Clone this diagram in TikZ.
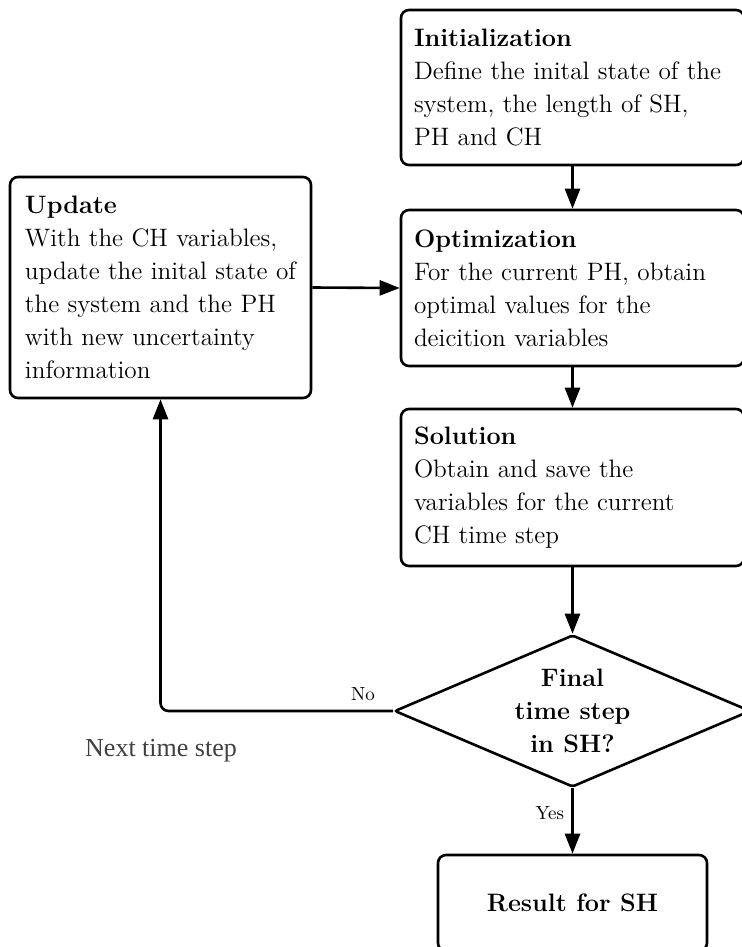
\documentclass[tikz,border=0pt]{standalone}
\usepackage{fontspec}
\newfontfamily\garafont{Liberation Serif}
\usetikzlibrary{shapes.geometric,arrows.meta}
\begin{document}
\begin{tikzpicture}[x=0.5pt,y=-0.5pt,
  box/.style={draw, line width=1.3pt, rounded corners=4pt, align=left, inner xsep=6.5pt, inner ysep=0pt, font=\fontsize{12.6}{16.5}\selectfont},
  arr/.style={line width=1.3pt, -{Triangle[length=10pt,width=7.5pt]}},
  lab/.style={font=\fontsize{9.5}{11}\selectfont, inner sep=0pt}
]
\useasboundingbox (0,0) rectangle (742,947);
\node[box, minimum width=171.5pt, text width=158.5pt, minimum height=77.5pt] (init) at (572.5,87.5)
  {\textbf{Initialization}\\Define the inital state of the\\system, the length of SH,\\PH and CH};
\node[box, minimum width=171.5pt, text width=158.5pt, minimum height=78pt] (opt) at (572.5,288)
  {\textbf{Optimization}\\For the current PH, obtain\\optimal values for the\\deicition variables};
\node[box, minimum width=171.5pt, text width=158.5pt, minimum height=78.5pt] (sol) at (572.5,487.5)
  {\textbf{Solution}\\Obtain and save the\\variables for the current\\CH time step};
\node[box, inner xsep=7.5pt, minimum width=150.5pt, text width=135.5pt, minimum height=110.5pt] (upd) at (160.5,287.5)
  {\textbf{Update}\\With the CH variables,\\update the inital state of\\the system and the PH\\with new uncertainty\\information};
\node[draw, diamond, aspect=2.34, minimum width=178pt, minimum height=76pt, inner sep=0pt, line width=1.3pt, rounded corners=1pt, align=center, font=\bfseries\fontsize{12.6}{16.5}\selectfont] (dia) at (572.5,711)
  {Final\\time step\\in SH?};
\node[box, align=center, text width=, font=\bfseries\fontsize{12.6}{16.5}\selectfont, minimum width=134.5pt, minimum height=48pt] (res) at (572.5,903) {Result for SH};
\draw[arr] (init) -- (opt);
\draw[arr] (opt) -- (sol);
\draw[arr] (sol) -- (dia);
\draw[arr] (upd.east) -- (opt.west);
\draw[arr] (dia) -- (res);
\draw[arr, rounded corners=4pt] (dia.west) -| (upd.south);
\node[lab, anchor=base east] (no) at ([xshift=-9pt,yshift=5.5pt]dia.west) {No};
\node[lab, anchor=base east] (yes) at ([xshift=-4pt,yshift=-15.5pt]dia.south) {Yes};
\node[font=\garafont\fontsize{13}{15}\selectfont, text=black!75, anchor=base] (next) at (161,756) {Next time step};
\end{tikzpicture}
\end{document}
